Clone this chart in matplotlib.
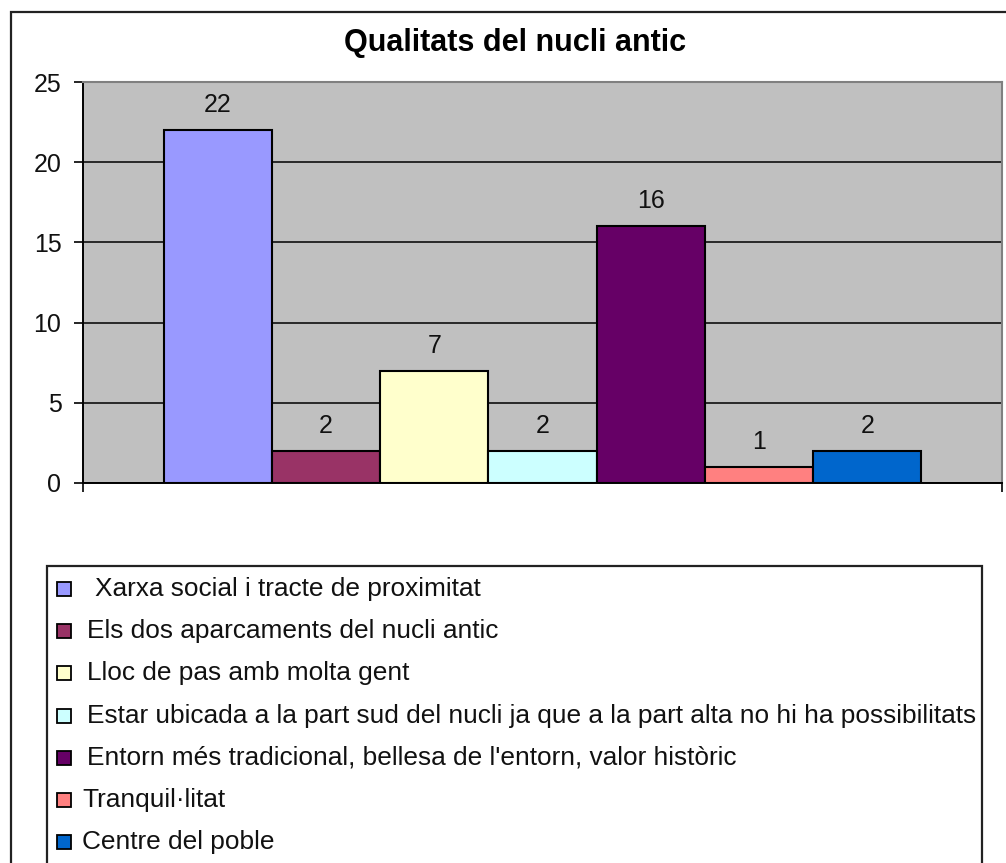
import matplotlib
matplotlib.use("Agg")
import matplotlib.pyplot as plt
from matplotlib.patches import Rectangle

title = "Qualitats del nucli antic"
categories = [
    " Xarxa social i tracte de proximitat",
    "Els dos aparcaments del nucli antic",
    "Lloc de pas amb molta gent",
    "Estar ubicada a la part sud del nucli ja que a la part alta no hi ha possibilitats",
    "Entorn més tradicional, bellesa de l'entorn, valor històric",
    "Tranquil·litat",
    "Centre del poble",
]
values = [22, 2, 7, 2, 16, 1, 2]
colors = ["#9999FF", "#993366", "#FFFFCC", "#CCFFFF", "#660066", "#FF8080", "#0066CC"]
yticks = [0, 5, 10, 15, 20, 25]

W, H = 1006, 863
plt.rcParams['font.family'] = ['Liberation Sans', 'DejaVu Sans']
fig = plt.figure(figsize=(W / 100, H / 100), dpi=100)

def fx(px):
    return px / W

def fy(py):
    return 1 - py / H

# outer chart border (right and bottom edges lie outside the image)
fig.patches.append(Rectangle((fx(11), fy(880)), fx(1020 - 11), (880 - 12) / H,
                             transform=fig.transFigure, fill=False,
                             edgecolor="#222222", linewidth=1.6, clip_on=False))

ax = fig.add_axes([fx(83), fy(483), fx(1002 - 83), (483 - 82) / H])
ax.set_facecolor("#C0C0C0")
n = len(values)
xs = [i - (n - 1) / 2 for i in range(n)]
ax.bar(xs, values, width=1.0, color=colors, edgecolor="black", linewidth=1.5, zorder=3)
for x, v in zip(xs, values):
    ax.annotate(str(v), (x, v), xytext=(0, 18), textcoords="offset pixels",
                ha="center", va="baseline", fontsize=18, color="#111111", zorder=4)

pad = 0.745
ax.set_xlim(xs[0] - 0.5 - pad, xs[-1] + 0.5 + pad)
ax.set_ylim(0, 25)
ax.set_yticks(yticks)
ax.set_yticklabels([str(t) for t in yticks], fontsize=18, color="#111111")
ax.set_xticks([xs[0] - 0.5 - pad, xs[-1] + 0.5 + pad])
ax.set_xticklabels(["", ""])
ax.tick_params(axis="both", direction="out", length=6.5, width=1.2, color="black", pad=9)
ax.grid(axis="y", color="black", linewidth=1.1, zorder=1)
for side in ["top", "right"]:
    ax.spines[side].set_color("#808080")
    ax.spines[side].set_linewidth(1.5)
ax.spines["left"].set_linewidth(1.4)
ax.spines["bottom"].set_linewidth(1.4)

fig.text(fx(515), fy(43), title, ha="center", va="center", fontsize=22, fontweight="bold")

# legend
fig.patches.append(Rectangle((fx(47), fy(880)), fx(982 - 47), (880 - 566) / H,
                             transform=fig.transFigure, fill=True, facecolor="white",
                             edgecolor="#222222", linewidth=1.6, clip_on=False))
y0, dy = 589, 42.2
text_x = [95, 87, 87, 87, 87, 82, 82]
for i, (lab, c) in enumerate(zip(categories, colors)):
    y = y0 + i * dy
    fig.patches.append(Rectangle((fx(57), fy(y + 7)), fx(14), 14 / H,
                                 transform=fig.transFigure, facecolor=c,
                                 edgecolor="black", linewidth=1.3))
    fig.text(fx(text_x[i]), fy(y), lab.strip(), ha="left", va="center",
             fontsize=18.9, color="#111111")

fig.savefig("out.png", dpi=100, facecolor="white")
